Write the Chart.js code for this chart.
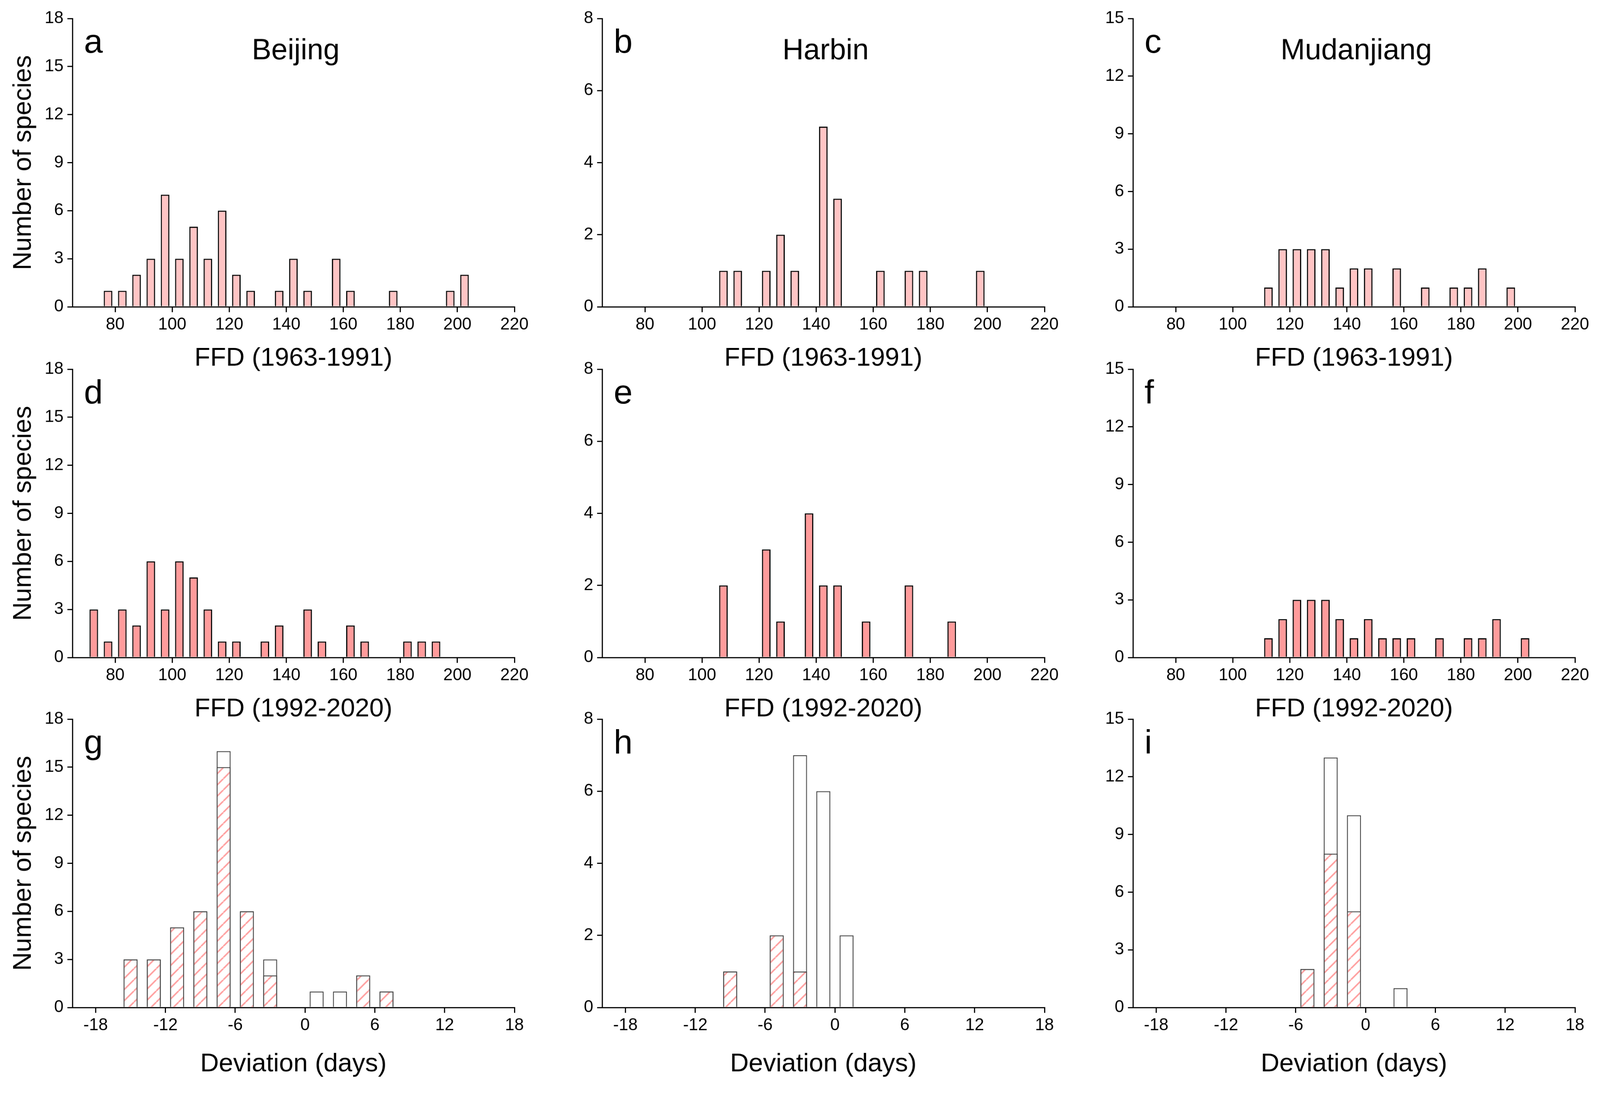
<!DOCTYPE html>
<html>
<head>
<meta charset="utf-8">
<script src="https://cdn.jsdelivr.net/npm/chart.js@4.4.1/dist/chart.umd.min.js"></script>
<style>
  html, body { margin: 0; padding: 0; background: #fff; overflow: hidden; }
  body { width: 100vw; height: 100vh; position: relative; }
  canvas { position: absolute; }
</style>
</head>
<body>
<canvas id="pa"></canvas><canvas id="pb"></canvas><canvas id="pc"></canvas>
<canvas id="pd"></canvas><canvas id="pe"></canvas><canvas id="pf"></canvas>
<canvas id="pg"></canvas><canvas id="ph"></canvas><canvas id="pi"></canvas>
<script>
// tick labels
var ffdTicks = [80, 100, 120, 140, 160, 180, 200, 220];
var devTicks = [-18, -12, -6, 0, 6, 12, 18];
var yTicks18 = [0, 3, 6, 9, 12, 15, 18];
var yTicks8 = [0, 2, 4, 6, 8];
var yTicks15 = [0, 3, 6, 9, 12, 15];

// FFD 1963-1991 (bin centres, 5-day bins)
var aBins = [77.5, 82.5, 87.5, 92.5, 97.5, 102.5, 107.5, 112.5, 117.5, 122.5, 127.5, 137.5, 142.5, 147.5, 157.5, 162.5, 177.5, 197.5, 202.5];
var aCounts = [1, 1, 2, 3, 7, 3, 5, 3, 6, 2, 1, 1, 3, 1, 3, 1, 1, 1, 2];
var bBins = [107.5, 112.5, 122.5, 127.5, 132.5, 142.5, 147.5, 162.5, 172.5, 177.5, 197.5];
var bCounts = [1, 1, 1, 2, 1, 5, 3, 1, 1, 1, 1];
var cBins = [112.5, 117.5, 122.5, 127.5, 132.5, 137.5, 142.5, 147.5, 157.5, 167.5, 177.5, 182.5, 187.5, 197.5];
var cCounts = [1, 3, 3, 3, 3, 1, 2, 2, 2, 1, 1, 1, 2, 1];

// FFD 1992-2020
var dBins = [72.5, 77.5, 82.5, 87.5, 92.5, 97.5, 102.5, 107.5, 112.5, 117.5, 122.5, 132.5, 137.5, 147.5, 152.5, 162.5, 167.5, 182.5, 187.5, 192.5];
var dCounts = [3, 1, 3, 2, 6, 3, 6, 5, 3, 1, 1, 1, 2, 3, 1, 2, 1, 1, 1, 1];
var eBins = [107.5, 122.5, 127.5, 137.5, 142.5, 147.5, 157.5, 172.5, 187.5];
var eCounts = [2, 3, 1, 4, 2, 2, 1, 2, 1];
var fBins = [112.5, 117.5, 122.5, 127.5, 132.5, 137.5, 142.5, 147.5, 152.5, 157.5, 162.5, 172.5, 182.5, 187.5, 192.5, 202.5];
var fCounts = [1, 2, 3, 3, 3, 2, 1, 2, 1, 1, 1, 1, 1, 1, 2, 1];

// Deviation (2-day bins): total and hatched part
var gBins = [-15, -13, -11, -9, -7, -5, -3, 1, 3, 5, 7];
var gTotal = [3, 3, 5, 6, 16, 6, 3, 1, 1, 2, 1];
var gHatched = [3, 3, 5, 6, 15, 6, 2, 0, 0, 2, 1];
var hBins = [-9, -5, -3, -1, 1];
var hTotal = [1, 2, 7, 6, 2];
var hHatched = [1, 2, 1, 0, 0];
var iBins = [-5, -3, -1, 3];
var iTotal = [2, 13, 10, 1];
var iHatched = [2, 8, 5, 0];

var FONT = '"Liberation Sans", Arial, Helvetica, sans-serif';
Chart.defaults.font.family = FONT;
Chart.defaults.color = '#000';

// the layout is worked out on a 4155 x 2832 grid; fit it to the real viewport
var k = window.innerWidth / 4155;
if (!isFinite(k) || k < 0.1) k = 1;

// panel letter and city name inside the plot area
var panelText = {
  id: 'panelText',
  afterDraw: function (chart, args, opts) {
    var ctx = chart.ctx, area = chart.chartArea;
    ctx.save();
    ctx.fillStyle = '#000';
    ctx.textBaseline = 'alphabetic';
    ctx.textAlign = 'left';
    ctx.font = '88px ' + FONT;
    ctx.fillText(opts.letter, area.left + 30, area.top + 89);
    if (opts.city) {
      ctx.font = '76px ' + FONT;
      ctx.textAlign = 'center';
      ctx.fillText(opts.city, (area.left + area.right) / 2 + 6, area.top + 106);
    }
    ctx.restore();
  }
};

function makeHatch() {
  var s = 29, c = document.createElement('canvas');
  c.width = s; c.height = s;
  var g = c.getContext('2d');
  g.fillStyle = '#fff';
  g.fillRect(0, 0, s, s);
  g.strokeStyle = '#ffa0a0';
  g.lineWidth = 4;
  g.beginPath();
  for (var j = -1; j <= 1; j++) {
    g.moveTo(j * s, s);
    g.lineTo(j * s + s, 0);
  }
  g.stroke();
  return g.createPattern(c, 'repeat');
}
var hatch = makeHatch();

function points(bins, counts) {
  return bins.map(function (x, n) { return { x: x, y: counts[n] }; })
    .filter(function (p) { return p.y > 0; });
}

var colLeft = [0, 1376, 2754];
var rowTop = [0, 911, 1820];

function makeChart(id, col, row, datasets, xr, xTicks, xTitle, yMax, yTicks, letter, city) {
  var el = document.getElementById(id);
  var xH = row === 2 ? 188 : 175;
  el.width = 1398;
  el.height = 48 + 749 + xH;
  el.style.left = (colLeft[col] * k) + 'px';
  el.style.top = (rowTop[row] * k) + 'px';
  el.style.width = (el.width * k) + 'px';
  el.style.height = (el.height * k) + 'px';

  new Chart(el, {
    type: 'bar',
    data: { datasets: datasets },
    plugins: [panelText],
    options: {
      responsive: false,
      animation: false,
      devicePixelRatio: 1,
      layout: { padding: { left: 0, right: 62, top: 48, bottom: 0 } },
      plugins: {
        legend: { display: false },
        tooltip: { enabled: false },
        panelText: { letter: letter, city: city }
      },
      scales: {
        x: {
          type: 'linear',
          min: xr[0],
          max: xr[1],
          offset: false,
          afterBuildTicks: function (s) { s.ticks = xTicks.map(function (v) { return { value: v }; }); },
          afterFit: function (s) { s.height = xH; },
          grid: { offset: false, drawOnChartArea: false, drawTicks: true, tickLength: 14, lineWidth: 3, color: '#000' },
          border: { display: true, color: '#000', width: 3 },
          ticks: { color: '#000', font: { size: 44 }, padding: 6, maxRotation: 0, autoSkip: false },
          title: { display: true, text: xTitle, color: '#000', font: { size: 67 }, padding: 0 }
        },
        y: {
          type: 'linear',
          min: 0,
          max: yMax,
          afterBuildTicks: function (s) { s.ticks = yTicks.map(function (v) { return { value: v }; }); },
          afterFit: function (s) { s.width = 188; },
          grid: { drawOnChartArea: false, drawTicks: true, tickLength: 13, lineWidth: 3, color: '#000' },
          border: { display: true, color: '#000', width: 3 },
          ticks: { color: '#000', font: { size: 44 }, padding: 10, autoSkip: false },
          title: { display: col === 0, text: 'Number of species', color: '#000', font: { size: 67 }, padding: { top: 21, bottom: 0 } }
        }
      }
    }
  });
}

function histSet(bins, counts, fill) {
  return [{
    data: points(bins, counts),
    backgroundColor: fill,
    borderColor: '#000',
    borderWidth: 3,
    borderSkipped: 'start',
    barPercentage: 0.6,
    categoryPercentage: 1.0
  }];
}

function devSets(bins, total, hatched) {
  var common = { borderColor: '#404040', borderWidth: 2.5, borderSkipped: 'start', barPercentage: 0.6, categoryPercentage: 1.0, grouped: false };
  return [
    Object.assign({ data: points(bins, hatched), backgroundColor: hatch }, common),
    Object.assign({ data: points(bins, total), backgroundColor: '#ffffff' }, common)
  ];
}

var pink1 = '#ffc4c4';
var pink2 = '#ff9b9b';
var ffdRange = [65, 220];
var devRange = [-20, 18];

makeChart('pa', 0, 0, histSet(aBins, aCounts, pink1), ffdRange, ffdTicks, 'FFD (1963-1991)', 18, yTicks18, 'a', 'Beijing');
makeChart('pb', 1, 0, histSet(bBins, bCounts, pink1), ffdRange, ffdTicks, 'FFD (1963-1991)', 8, yTicks8, 'b', 'Harbin');
makeChart('pc', 2, 0, histSet(cBins, cCounts, pink1), ffdRange, ffdTicks, 'FFD (1963-1991)', 15, yTicks15, 'c', 'Mudanjiang');

makeChart('pd', 0, 1, histSet(dBins, dCounts, pink2), ffdRange, ffdTicks, 'FFD (1992-2020)', 18, yTicks18, 'd', '');
makeChart('pe', 1, 1, histSet(eBins, eCounts, pink2), ffdRange, ffdTicks, 'FFD (1992-2020)', 8, yTicks8, 'e', '');
makeChart('pf', 2, 1, histSet(fBins, fCounts, pink2), ffdRange, ffdTicks, 'FFD (1992-2020)', 15, yTicks15, 'f', '');

makeChart('pg', 0, 2, devSets(gBins, gTotal, gHatched), devRange, devTicks, 'Deviation (days)', 18, yTicks18, 'g', '');
makeChart('ph', 1, 2, devSets(hBins, hTotal, hHatched), devRange, devTicks, 'Deviation (days)', 8, yTicks8, 'h', '');
makeChart('pi', 2, 2, devSets(iBins, iTotal, iHatched), devRange, devTicks, 'Deviation (days)', 15, yTicks15, 'i', '');
</script>
</body>
</html>
